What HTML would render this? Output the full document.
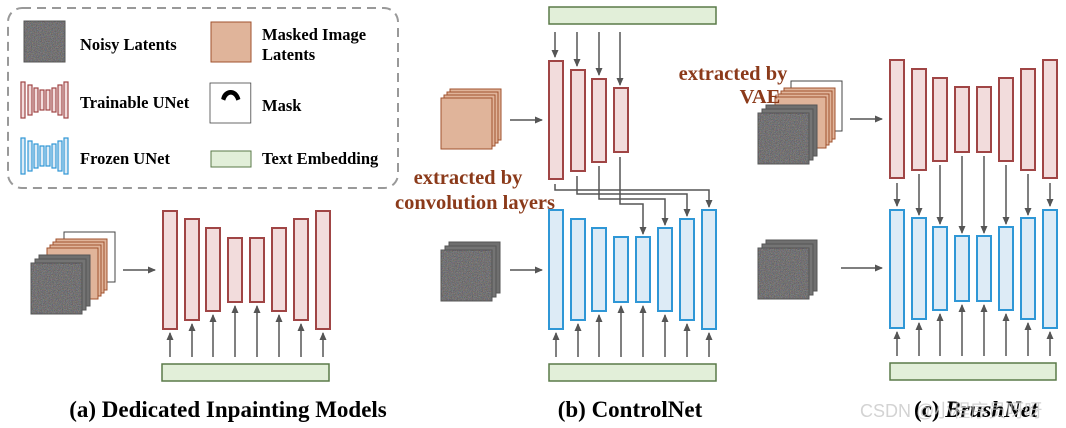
<!DOCTYPE html>
<html><head><meta charset="utf-8"><style>
html,body{margin:0;padding:0;background:#fff;}
svg{display:block;}
text{font-family:"Liberation Serif",serif;font-weight:bold;}
</style></head><body>
<svg width="1066" height="428" viewBox="0 0 1066 428" xmlns="http://www.w3.org/2000/svg">
<defs>
<filter id="nz" x="0" y="0" width="100%" height="100%" color-interpolation-filters="sRGB">
<feTurbulence type="fractalNoise" baseFrequency="1.2" numOctaves="2" seed="3" result="t"/>
<feColorMatrix in="t" type="matrix" values="0.4 0.1 0 0 0.2  0.05 0.35 0.05 0 0.22  0 0.1 0.4 0 0.2  0 0 0 0 1"/>
</filter>
<marker id="ah" markerWidth="8" markerHeight="8" refX="7" refY="4" orient="auto" markerUnits="userSpaceOnUse">
<path d="M0,0.5 L8,4 L0,7.5 z" fill="#555"/></marker>
<g id="noisy">
<rect x="8" y="-8" width="51" height="51" fill="#6f6f6f" stroke="#555"/>
<rect x="4" y="-4" width="51" height="51" fill="#747474" stroke="#555"/>
<rect x="0" y="0" width="51" height="51" fill="#7b7b7b" stroke="#555"/>
<rect x="0.5" y="0.5" width="50" height="50" filter="url(#nz)"/>
</g>
<g id="masked">
<rect x="9" y="-9" width="51" height="51" fill="#e0b49a" stroke="#a0522d"/>
<rect x="6" y="-6" width="51" height="51" fill="#e0b49a" stroke="#a0522d"/>
<rect x="3" y="-3" width="51" height="51" fill="#e0b49a" stroke="#a0522d"/>
<rect x="0" y="0" width="51" height="51" fill="#e0b49a" stroke="#a0522d"/>
</g>
<g id="mask">
<rect x="0" y="0" width="51" height="50" fill="#fff" stroke="#444"/>
<path d="M14,20 C16,6 34,4 38,20 L33,22 C30,12 22,12 19,22 z" fill="#000"/>
</g>
</defs>

<!-- Legend -->
<rect x="8" y="8" width="390" height="180" rx="14" fill="none" stroke="#999" stroke-width="2" stroke-dasharray="9,6"/>
<rect x="24" y="21" width="41" height="41" fill="#7b7b7b" stroke="#555"/>
<rect x="24.5" y="21.5" width="40" height="40" filter="url(#nz)"/>
<text x="80" y="50" font-size="16.5">Noisy Latents</text>
<rect x="211" y="22" width="40" height="40" fill="#e0b49a" stroke="#a0522d"/>
<text x="262" y="40" font-size="16.5">Masked Image</text>
<text x="262" y="60" font-size="16.5">Latents</text>
<g fill="#f2dcdc" stroke="#a04545" stroke-width="1.2">
<rect x="21" y="82" width="4" height="36"/><rect x="28" y="85" width="4" height="30"/><rect x="34" y="88" width="4" height="24"/><rect x="40" y="90" width="4" height="20"/><rect x="46" y="90" width="4" height="20"/><rect x="52" y="88" width="4" height="24"/><rect x="58" y="85" width="4" height="30"/><rect x="64" y="82" width="4" height="36"/>
</g>
<text x="80" y="108" font-size="16.5">Trainable UNet</text>
<g transform="translate(210,83) scale(0.8)"><use href="#mask"/></g>
<text x="262" y="111" font-size="16.5">Mask</text>
<g fill="#ddebf6" stroke="#2f97d6" stroke-width="1.2">
<rect x="21" y="138" width="4" height="36"/><rect x="28" y="141" width="4" height="30"/><rect x="34" y="144" width="4" height="24"/><rect x="40" y="146" width="4" height="20"/><rect x="46" y="146" width="4" height="20"/><rect x="52" y="144" width="4" height="24"/><rect x="58" y="141" width="4" height="30"/><rect x="64" y="138" width="4" height="36"/>
</g>
<text x="80" y="164" font-size="16.5">Frozen UNet</text>
<rect x="211" y="151" width="40" height="16" fill="#e2efd9" stroke="#5a7a48"/>
<text x="262" y="164" font-size="16.5">Text Embedding</text>

<!-- Panel (a) -->
<use href="#mask" x="64" y="232"/>
<use href="#masked" x="47" y="248"/>
<use href="#noisy" x="31" y="263"/>
<line x1="123" y1="270" x2="155" y2="270" stroke="#555" stroke-width="1.5" marker-end="url(#ah)"/>
<g fill="#f2dcdc" stroke="#a04545" stroke-width="2">
<rect x="163" y="211" width="14" height="118"/><rect x="185" y="219" width="14" height="101"/><rect x="206" y="228" width="14" height="83"/><rect x="228" y="238" width="14" height="64"/><rect x="250" y="238" width="14" height="64"/><rect x="272" y="228" width="14" height="83"/><rect x="294" y="219" width="14" height="101"/><rect x="316" y="211" width="14" height="118"/>
</g>
<g stroke="#555" stroke-width="1.5" marker-end="url(#ah)">
<line x1="170" y1="357" x2="170" y2="333"/><line x1="192" y1="357" x2="192" y2="324"/><line x1="213" y1="357" x2="213" y2="315"/><line x1="235" y1="357" x2="235" y2="306"/><line x1="257" y1="357" x2="257" y2="306"/><line x1="279" y1="357" x2="279" y2="315"/><line x1="301" y1="357" x2="301" y2="324"/><line x1="323" y1="357" x2="323" y2="333"/>
</g>
<rect x="162" y="364" width="167" height="17" fill="#e2efd9" stroke="#5a7a48" stroke-width="1.5"/>
<text x="228" y="417" font-size="23" text-anchor="middle">(a) Dedicated Inpainting Models</text>

<!-- Panel (b) -->
<rect x="549" y="7" width="167" height="17" fill="#e2efd9" stroke="#5a7a48" stroke-width="1.5"/>
<g stroke="#555" stroke-width="1.5" marker-end="url(#ah)">
<line x1="555" y1="32" x2="555" y2="57"/><line x1="577" y1="32" x2="577" y2="66"/><line x1="599" y1="32" x2="599" y2="75"/><line x1="620" y1="32" x2="620" y2="85"/>
</g>
<g fill="#f2dcdc" stroke="#a04545" stroke-width="2">
<rect x="549" y="61" width="14" height="118"/><rect x="571" y="70" width="14" height="101"/><rect x="592" y="79" width="14" height="83"/><rect x="614" y="88" width="14" height="64"/>
</g>
<use href="#masked" x="441" y="98"/>
<line x1="510" y1="120" x2="542" y2="120" stroke="#555" stroke-width="1.5" marker-end="url(#ah)"/>
<g fill="none" stroke="#555" stroke-width="1.5">
<polyline points="555,184 555,190 709,190 709,207" marker-end="url(#ah)"/>
<polyline points="577,176 577,194 687,194 687,216" marker-end="url(#ah)"/>
<polyline points="599,166 599,199 665,199 665,225" marker-end="url(#ah)"/>
<polyline points="620,157 620,204 643,204 643,234" marker-end="url(#ah)"/>
</g>
<g fill="#ddebf6" stroke="#2f97d6" stroke-width="2">
<rect x="549" y="210" width="14" height="119"/><rect x="571" y="219" width="14" height="101"/><rect x="592" y="228" width="14" height="83"/><rect x="614" y="237" width="14" height="65"/><rect x="636" y="237" width="14" height="65"/><rect x="658" y="228" width="14" height="83"/><rect x="680" y="219" width="14" height="101"/><rect x="702" y="210" width="14" height="119"/>
</g>
<use href="#noisy" x="441" y="250"/>
<line x1="510" y1="270" x2="542" y2="270" stroke="#555" stroke-width="1.5" marker-end="url(#ah)"/>
<g stroke="#555" stroke-width="1.5" marker-end="url(#ah)">
<line x1="556" y1="357" x2="556" y2="333"/><line x1="578" y1="357" x2="578" y2="324"/><line x1="599" y1="357" x2="599" y2="315"/><line x1="621" y1="357" x2="621" y2="306"/><line x1="643" y1="357" x2="643" y2="306"/><line x1="665" y1="357" x2="665" y2="315"/><line x1="687" y1="357" x2="687" y2="324"/><line x1="709" y1="357" x2="709" y2="333"/>
</g>
<rect x="549" y="364" width="167" height="17" fill="#e2efd9" stroke="#5a7a48" stroke-width="1.5"/>
<text x="468" y="184" font-size="20.5" fill="#8b3a1a" text-anchor="middle">extracted by</text>
<text x="475" y="209" font-size="20.5" fill="#8b3a1a" text-anchor="middle">convolution layers</text>
<text x="630" y="417" font-size="23" text-anchor="middle">(b) ControlNet</text>

<!-- Panel (c) -->
<use href="#mask" x="791" y="81"/>
<use href="#masked" x="775" y="97"/>
<use href="#noisy" x="758" y="113"/>
<text x="733" y="80" font-size="20.5" fill="#8b3a1a" text-anchor="middle">extracted by</text>
<text x="760" y="103" font-size="20.5" fill="#8b3a1a" text-anchor="middle">VAE</text>
<line x1="850" y1="119" x2="882" y2="119" stroke="#555" stroke-width="1.5" marker-end="url(#ah)"/>
<g fill="#f2dcdc" stroke="#a04545" stroke-width="2">
<rect x="890" y="60" width="14" height="118"/><rect x="912" y="69" width="14" height="101"/><rect x="933" y="78" width="14" height="83"/><rect x="955" y="87" width="14" height="65"/><rect x="977" y="87" width="14" height="65"/><rect x="999" y="78" width="14" height="83"/><rect x="1021" y="69" width="14" height="101"/><rect x="1043" y="60" width="14" height="118"/>
</g>
<g stroke="#555" stroke-width="1.5" marker-end="url(#ah)">
<line x1="897" y1="183" x2="897" y2="206"/><line x1="919" y1="174" x2="919" y2="215"/><line x1="940" y1="165" x2="940" y2="224"/><line x1="962" y1="156" x2="962" y2="233"/><line x1="984" y1="156" x2="984" y2="233"/><line x1="1006" y1="165" x2="1006" y2="224"/><line x1="1028" y1="174" x2="1028" y2="215"/><line x1="1050" y1="183" x2="1050" y2="206"/>
</g>
<g fill="#ddebf6" stroke="#2f97d6" stroke-width="2">
<rect x="890" y="210" width="14" height="118"/><rect x="912" y="218" width="14" height="101"/><rect x="933" y="227" width="14" height="83"/><rect x="955" y="236" width="14" height="65"/><rect x="977" y="236" width="14" height="65"/><rect x="999" y="227" width="14" height="83"/><rect x="1021" y="218" width="14" height="101"/><rect x="1043" y="210" width="14" height="118"/>
</g>
<use href="#noisy" x="758" y="248"/>
<line x1="841" y1="268" x2="882" y2="268" stroke="#555" stroke-width="1.5" marker-end="url(#ah)"/>
<g stroke="#555" stroke-width="1.5" marker-end="url(#ah)">
<line x1="897" y1="356" x2="897" y2="332"/><line x1="919" y1="356" x2="919" y2="323"/><line x1="940" y1="356" x2="940" y2="314"/><line x1="962" y1="356" x2="962" y2="305"/><line x1="984" y1="356" x2="984" y2="305"/><line x1="1006" y1="356" x2="1006" y2="314"/><line x1="1028" y1="356" x2="1028" y2="323"/><line x1="1050" y1="356" x2="1050" y2="332"/>
</g>
<rect x="890" y="363" width="166" height="17" fill="#e2efd9" stroke="#5a7a48" stroke-width="1.5"/>
<text x="914" y="417" font-size="23">(c) <tspan font-style="italic">BrushNet</tspan></text>
<text x="860" y="417" font-size="18" fill="#c8c8c8" fill-opacity="0.8" style="font-family:'Liberation Sans','Noto Sans CJK SC',sans-serif;font-weight:normal">CSDN @&#x5C0F;&#x7A0B;&#x5E8F;&#x5458;&#x5440;&#x5440;</text>
</svg>
</body></html>
